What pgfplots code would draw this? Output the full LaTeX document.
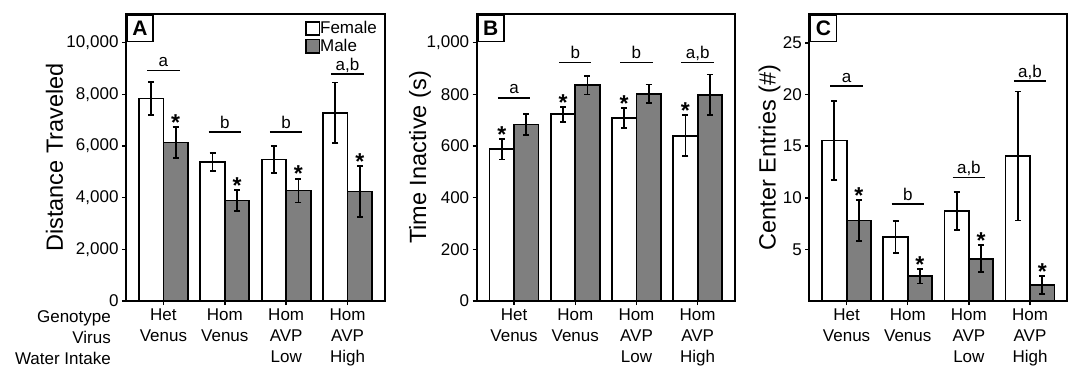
\documentclass[border=0pt]{standalone}
\usepackage{fontspec}
\setmainfont{Liberation Sans}
\usepackage{pgfplots}
\pgfplotsset{compat=1.18}
\definecolor{barg}{RGB}{127,127,127}
\newcommand{\fs}{\fontsize{17bp}{21bp}\selectfont}
\newcommand{\st}[2]{\node[font=\fontsize{23bp}{23bp}\selectfont\bfseries, anchor=base, inner sep=0pt, yshift=-3.3bp] at (axis cs:#1,#2) {*};}
\newcommand{\grp}[3]{\draw[line width=1.6bp] (axis cs:#1-0.265,#2) -- (axis cs:#1+0.265,#2);
  \node[anchor=base, inner sep=0pt, font=\fs, yshift=4bp] at (axis cs:#1,#2) {#3};}
\newcommand{\plab}[1]{\node[draw, line width=1.8bp, anchor=north west, font=\fontsize{21bp}{21bp}\selectfont\bfseries, minimum width=26.3bp, minimum height=26.7bp, inner sep=0pt, fill=white] at (rel axis cs:0,1) {#1};}
\pgfplotsset{
  panel/.style={
    scale only axis, height=287bp,
    ybar, bar width=0.4, ymin=0,
    xmin=-0.61, xmax=3.61,
    xtick={0,1,2,3},
    xticklabels={{Het\\Venus},{Hom\\Venus},{Hom\\AVP\\Low},{Hom\\AVP\\High}},
    xticklabel style={align=center, font=\fs},
    yticklabel style={font=\fs},
    tick align=outside, xtick pos=bottom, ytick pos=left, major tick length=4bp,
    tick style={line width=1.5bp, black},
    axis line style={line width=1.8bp},
    /pgf/number format/assume math mode=true,
    /pgf/number format/1000 sep={,},
    scaled y ticks=false,
    ylabel style={font=\fontsize{23.5bp}{24bp}\selectfont, anchor=center},
    clip=false,
    legend image code/.code={\draw[#1, line width=1.5bp] (0bp,-7bp) rectangle (13.3bp,6.3bp);},
  },
  fem/.style={bar shift=-0.2, draw=black, fill=white, line width=1.8bp,
    error bars/.cd, y dir=both, y explicit, error bar style={line width=1.8bp},
    error mark options={rotate=90, mark size=3bp, line width=1.8bp}},
  mal/.style={bar shift=0.2, draw=black, fill=barg, line width=1.8bp,
    error bars/.cd, y dir=both, y explicit, error bar style={line width=1.8bp},
    error mark options={rotate=90, mark size=3bp, line width=1.8bp}},
}
\begin{document}
\begin{tikzpicture}
\useasboundingbox (0,0) rectangle (1072bp,369bp);
% Panel A
\begin{axis}[panel, at={(126bp,68bp)}, anchor=south west, width=259bp,
  ymax=11110, ytick={0,2000,...,10000},
  ylabel={Distance Traveled}, ylabel style={at={(rel axis cs:-0.276,0.5)}},
  legend style={draw=none, fill=none, at={(rel axis cs:1,1)}, anchor=north east, xshift=-8bp, yshift=-7bp,
    inner sep=0pt, font=\fs, row sep=3bp, nodes={inner sep=0pt, outer sep=0pt}, cells={anchor=west}},
  legend cell align=left]
\addplot[fem] coordinates {(0,7842) +- (0,650) (1,5375) +- (0,355) (2,5478) +- (0,535) (3,7287) +- (0,1175)};
\addplot[mal] coordinates {(0,6137) +- (0,590) (1,3889) +- (0,415) (2,4276) +- (0,460) (3,4236) +- (0,990)};
\addlegendentry{Female}
\addlegendentry{Male}
\st{0.2}{6727}\st{1.2}{4304}\st{2.2}{4736}\st{3.2}{5226}
\grp{0}{8915}{a}\grp{1}{6537}{b}\grp{2}{6537}{b}\grp{3}{8785}{a,b}
\plab{A}
\end{axis}
% Panel B
\begin{axis}[panel, at={(476.7bp,68bp)}, anchor=south west, width=258.3bp,
  ymax=1111, ytick={0,200,...,1000},
  ylabel={Time Inactive (s)}, ylabel style={at={(rel axis cs:-0.2195,0.5)}}]
\addplot[fem] coordinates {(0,587) +- (0,39) (1,723) +- (0,29) (2,709) +- (0,39) (3,640) +- (0,80)};
\addplot[mal] coordinates {(0,683) +- (0,40) (1,835) +- (0,36) (2,802) +- (0,36) (3,798) +- (0,79)};
\st{-0.2}{626}\st{0.8}{752}\st{1.8}{748}\st{2.8}{720}
\grp{0}{786}{a}\grp{1}{924}{b}\grp{2}{924}{b}\grp{3}{924}{a,b}
\plab{B}
\end{axis}
% Panel C
\begin{axis}[panel, at={(809.3bp,68bp)}, anchor=south west, width=258bp,
  ymax=27.8, ytick={5,10,...,25},
  ylabel={Center Entries (\#)}, ylabel style={at={(rel axis cs:-0.154,0.5)}}]
\addplot[fem] coordinates {(0,15.55) +- (0,3.8) (1,6.2) +- (0,1.55) (2,8.7) +- (0,1.85) (3,14.05) +- (0,6.25)};
\addplot[mal] coordinates {(0,7.8) +- (0,1.95) (1,2.4) +- (0,0.7) (2,4.1) +- (0,1.3) (3,1.56) +- (0,0.87)};
\st{0.2}{9.75}\st{1.2}{3.1}\st{2.2}{5.4}\st{3.2}{2.43}
\grp{0}{20.82}{a}\grp{1}{9.37}{b}\grp{2}{11.98}{a,b}\grp{3}{21.3}{a,b}
\plab{C}
\end{axis}
\node[anchor=base east, inner sep=0pt, font=\fs] at (111bp,46.7bp) {Genotype};
\node[anchor=base east, inner sep=0pt, font=\fs] at (111bp,25.7bp) {Virus};
\node[anchor=base east, inner sep=0pt, font=\fs] at (111bp,4.9bp) {Water Intake};
\end{tikzpicture}
\end{document}
